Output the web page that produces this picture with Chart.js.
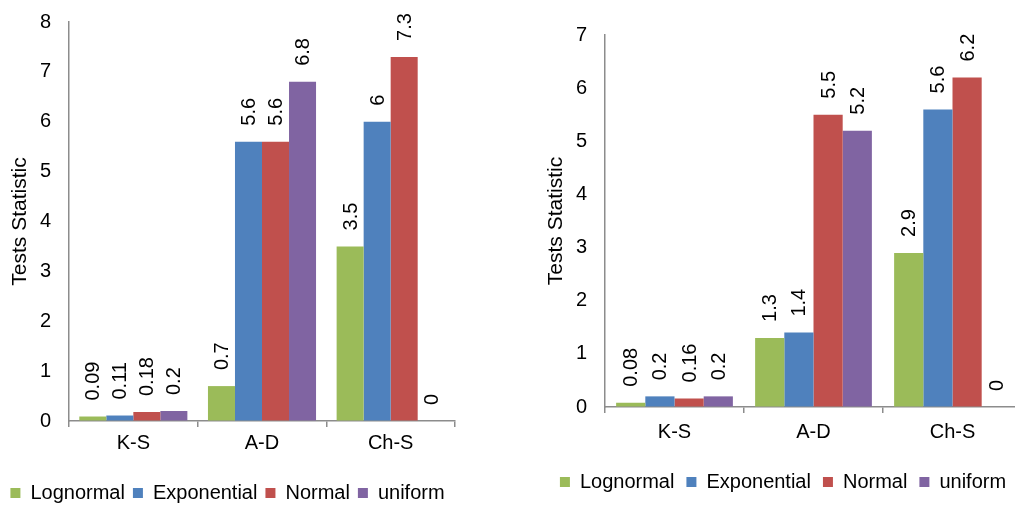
<!DOCTYPE html>
<html>
<head>
<meta charset="utf-8">
<script src="https://cdn.jsdelivr.net/npm/chart.js@4.4.1/dist/chart.umd.min.js"></script>
<style>
  html, body { margin: 0; padding: 0; background: #fff; overflow: hidden; width: 1015px; height: 508px; }
  .box { position: absolute; top: 0; }
</style>
</head>
<body>
<div class="box" style="left:0;width:466px;height:513px;"><canvas id="leftChart"></canvas></div>
<div class="box" style="left:530px;width:510px;height:508px;"><canvas id="rightChart"></canvas></div>
<script>
// Shared data
const tests = ["K-S", "A-D", "Ch-S"];
const seriesNames = ["Lognormal", "Exponential", "Normal", "uniform"];
const seriesColors = ["#9BBB59", "#4F81BD", "#C0504D", "#8064A2"];

// Left chart values (per series, in test order)
const leftLognormal = [0.09, 0.7, 3.5];
const leftExponential = [0.11, 5.6, 6];
const leftNormal = [0.18, 5.6, 7.3];
const leftUniform = [0.2, 6.8, 0];
const leftLabels = [
    ["0.09", "0.7", "3.5"],
    ["0.11", "5.6", "6"],
    ["0.18", "5.6", "7.3"],
    ["0.2", "6.8", "0"],
];

// Right chart values
const rightLognormal = [0.08, 1.3, 2.9];
const rightExponential = [0.2, 1.4, 5.6];
const rightNormal = [0.16, 5.5, 6.2];
const rightUniform = [0.2, 5.2, 0];
const rightLabels = [
    ["0.08", "1.3", "2.9"],
    ["0.2", "1.4", "5.6"],
    ["0.16", "5.5", "6.2"],
    ["0.2", "5.2", "0"],
];

const leftMax = 8;
const rightMax = 7;

const FONT = "'Liberation Sans', Arial, sans-serif";
const AXIS_COLOR = "#8c8c8c";

// Rotated value labels above each bar
const barLabels = {
    id: "barLabels",
    afterDatasetsDraw(chart, args, opts) {
        const ctx = chart.ctx;
        ctx.save();
        ctx.font = "20px " + FONT;
        ctx.fillStyle = "#000";
        ctx.textAlign = "left";
        ctx.textBaseline = "middle";
        chart.data.datasets.forEach((ds, i) => {
            chart.getDatasetMeta(i).data.forEach((bar, j) => {
                ctx.save();
                ctx.translate(bar.x, bar.y - 16);
                ctx.rotate(-Math.PI / 2);
                ctx.fillText(opts.labels[i][j], 0, 1);
                ctx.restore();
            });
        });
        ctx.restore();
    },
};

function makeChart(id, values, labels, maxY, cfg) {
    const ctx = document.getElementById(id).getContext("2d");
    return new Chart(ctx, {
        type: "bar",
        data: {
            labels: tests,
            datasets: values.map((v, i) => ({
                label: seriesNames[i],
                data: v,
                backgroundColor: seriesColors[i],
                borderWidth: 0,
                categoryPercentage: 0.84,
                barPercentage: 1.0,
            })),
        },
        options: {
            responsive: true,
            maintainAspectRatio: false,
            animation: false,
            layout: { padding: cfg.pad },
            plugins: {
                legend: {
                    position: "bottom",
                    labels: {
                        font: { family: FONT, size: 20 },
                        color: "#000",
                        boxWidth: 10,
                        boxHeight: 10,
                        padding: cfg.legendPad,
                    },
                },
                tooltip: { enabled: false },
                barLabels: { labels: labels },
            },
            scales: {
                x: {
                    grid: {
                        display: true,
                        drawOnChartArea: false,
                        drawTicks: true,
                        tickLength: 6,
                        color: AXIS_COLOR,
                        lineWidth: 1.5,
                    },
                    border: { display: true, color: AXIS_COLOR, width: 1.5 },
                    ticks: {
                        font: { family: FONT, size: 20 },
                        color: "#000",
                        padding: cfg.xTickPad,
                    },
                    afterFit(s) { s.height = cfg.xHeight; },
                },
                y: {
                    min: 0,
                    max: maxY,
                    // invisible tick marks push the labels away from the axis
                    grid: {
                        display: true,
                        drawOnChartArea: false,
                        drawTicks: true,
                        tickLength: 15,
                        color: "rgba(0,0,0,0)",
                    },
                    border: { display: true, color: AXIS_COLOR, width: 1.5 },
                    ticks: {
                        stepSize: 1,
                        font: { family: FONT, size: 20 },
                        color: "#000",
                        padding: 3,
                    },
                    title: {
                        display: true,
                        text: "Tests Statistic",
                        font: { family: FONT, size: 21 },
                        color: "#000",
                        padding: { top: cfg.titlePad, bottom: 0 },
                    },
                    afterFit(s) { s.width = cfg.yWidth; },
                },
            },
        },
        plugins: [barLabels],
    });
}

makeChart(
    "leftChart",
    [leftLognormal, leftExponential, leftNormal, leftUniform],
    leftLabels,
    leftMax,
    {
        pad: { left: 0, right: 11, top: 22, bottom: 0 },
        yWidth: 69,
        titlePad: 8,
        legendPad: 8,
        xHeight: 54,
        xTickPad: 4,
    }
);

makeChart(
    "rightChart",
    [rightLognormal, rightExponential, rightNormal, rightUniform],
    rightLabels,
    rightMax,
    {
        pad: { left: 14, right: 18, top: 35, bottom: 6 },
        yWidth: 61,
        titlePad: 0,
        legendPad: 12,
        xHeight: 53,
        xTickPad: 7,
    }
);
</script>
</body>
</html>
